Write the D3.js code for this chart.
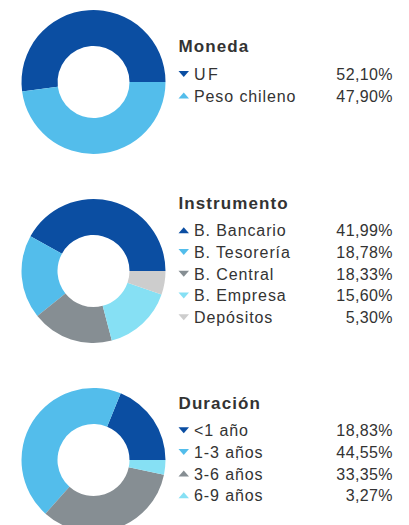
<!DOCTYPE html>
<html>
<head>
<meta charset="utf-8">
<script src="https://cdn.jsdelivr.net/npm/d3@7"></script>
<style>
  html, body { margin: 0; padding: 0; background: #fff; }
  svg { display: block; }
  text { font-family: "Liberation Sans", Arial, sans-serif; fill: #333; }
</style>
</head>
<body>
<svg id="chart" width="409" height="525"></svg>
<script>
// ---- data ----
const titles = ["Moneda", "Instrumento", "Duración"];

const monedaLabels = ["UF", "Peso chileno"];
const monedaValues = [52.10, 47.90];
const monedaArrows = ["down", "up"];

const instrumentoLabels = ["B. Bancario", "B. Tesorería", "B. Central", "B. Empresa", "Depósitos"];
const instrumentoValues = [41.99, 18.78, 18.33, 15.60, 5.30];
const instrumentoArrows = ["up", "down", "down", "down", "down"];

const duracionLabels = ["<1 año", "1-3 años", "3-6 años", "6-9 años"];
const duracionValues = [18.83, 44.55, 33.35, 3.27];
const duracionArrows = ["down", "down", "up", "up"];

const monedaColors = ["#0b4ea2", "#53bdeb"];
const instrumentoColors = ["#0b4ea2", "#53bdeb", "#868e93", "#86e0f4", "#cdcdcd"];
const duracionColors = ["#0b4ea2", "#53bdeb", "#868e93", "#86e0f4"];

const groups = [
  { title: titles[0], labels: monedaLabels, values: monedaValues, arrows: monedaArrows, colors: monedaColors },
  { title: titles[1], labels: instrumentoLabels, values: instrumentoValues, arrows: instrumentoArrows, colors: instrumentoColors },
  { title: titles[2], labels: duracionLabels, values: duracionValues, arrows: duracionArrows, colors: duracionColors }
];

// ---- layout ----
const svg = d3.select("#chart");
const cx = 93.5, outerR = 72, innerR = 36;
const firstCy = 82, stepY = 189;
const legendX = 178.5, labelX = 194, valueX = 393;
const rowH = 21.7, titleToRow = 27.5, capH = 12;

const fmt = v => d3.format(".2f")(v).replace(".", ",") + "%";

const pie = d3.pie().sort(null).value(d => d)
  .startAngle(Math.PI / 2).endAngle(Math.PI / 2 - 2 * Math.PI);
const arc = d3.arc().innerRadius(innerR).outerRadius(outerR);

groups.forEach((g, gi) => {
  const cy = firstCy + gi * stepY;
  const color = d3.scaleOrdinal().domain(g.labels).range(g.colors);

  const donut = svg.append("g").attr("transform", `translate(${cx},${cy})`);
  donut.selectAll("path")
    .data(pie(g.values))
    .join("path")
    .attr("d", arc)
    .attr("fill", (d, i) => color(g.labels[i]));

  const n = g.labels.length;
  const H = capH + titleToRow + (n - 1) * rowH;
  const titleBase = cy - 11 - H / 2 + capH;

  const leg = svg.append("g");
  leg.append("text")
    .attr("x", legendX)
    .attr("y", titleBase)
    .attr("font-size", 17)
    .attr("font-weight", "bold")
    .attr("letter-spacing", 1.1)
    .text(g.title);

  const y = d3.scalePoint().domain(g.labels)
    .range([titleBase + titleToRow, titleBase + titleToRow + (n - 1) * rowH]);

  const rows = leg.selectAll("g.row")
    .data(g.labels)
    .join("g")
    .attr("class", "row")
    .attr("transform", d => `translate(0,${y(d)})`);

  const tw = 10.5, th = 6, tyc = -6;
  rows.append("path")
    .attr("d", (d, i) => g.arrows[i] === "down"
      ? `M${legendX},${tyc - th / 2}L${legendX + tw},${tyc - th / 2}L${legendX + tw / 2},${tyc + th / 2}Z`
      : `M${legendX},${tyc + th / 2}L${legendX + tw},${tyc + th / 2}L${legendX + tw / 2},${tyc - th / 2}Z`)
    .attr("fill", d => color(d));

  rows.append("text")
    .attr("x", labelX)
    .attr("font-size", 16)
    .attr("letter-spacing", d => d === "UF" ? 2.5 : 0.9)
    .text(d => d);

  rows.append("text")
    .attr("x", valueX)
    .attr("text-anchor", "end")
    .attr("font-size", 16)
    .attr("letter-spacing", 0.4)
    .text((d, i) => fmt(g.values[i]));
});
</script>
</body>
</html>
